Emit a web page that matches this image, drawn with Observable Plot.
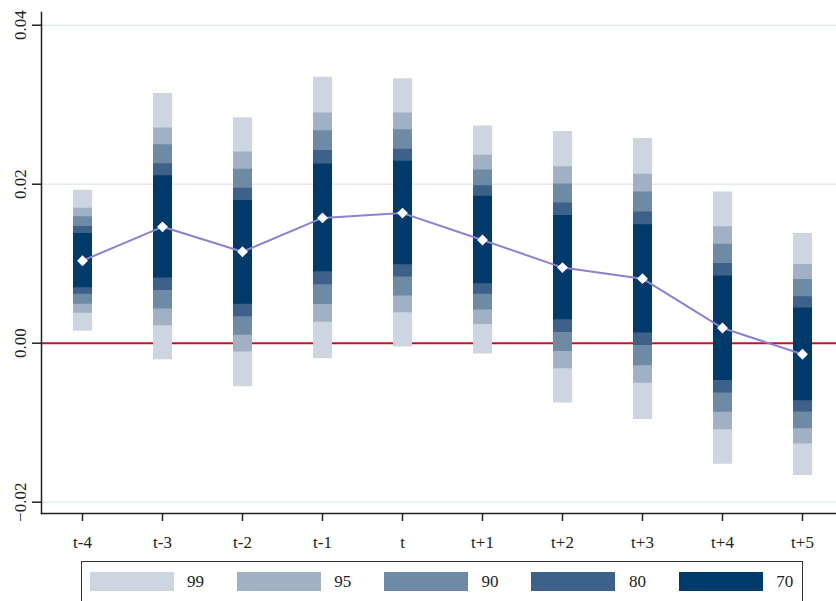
<!DOCTYPE html>
<html>
<head>
<meta charset="utf-8">
<script src="https://cdn.jsdelivr.net/npm/d3@7"></script>
<script src="https://cdn.jsdelivr.net/npm/@observablehq/plot@0.6"></script>
<style>
  html, body { margin: 0; padding: 0; background: #fff; }
  body { width: 836px; height: 601px; overflow: hidden; position: relative;
         font-family: "Liberation Serif", "DejaVu Serif", serif; }
  #chart { position: absolute; left: 0; top: 0; }
  #chart svg, #chart svg text { font-family: "Liberation Serif", "DejaVu Serif", serif !important; }
  #legend { position: absolute; left: 81px; top: 561px; width: 722px; height: 60px;
            border: 1.5px solid #333; box-sizing: border-box; background: #fff; }
  .sw { position: absolute; top: 9.5px; width: 84px; height: 19px; }
  .lb { position: absolute; top: 9.5px; height: 19px; line-height: 19px; font-size: 17px; color: #222;
        font-family: "Liberation Serif", "DejaVu Serif", serif; }
</style>
</head>
<body>
<div id="chart"></div>
<div id="legend"></div>
<script>
// ---- data ----
const categories = ["t-4","t-3","t-2","t-1","t","t+1","t+2","t+3","t+4","t+5"];
const estimate   = [0.01038, 0.01464, 0.01151, 0.01576, 0.01637, 0.01299, 0.00951, 0.00812, 0.00191, -0.00139];

const lo99 = [0.00152, -0.00208, -0.00547, -0.00195, -0.00048, -0.00135, -0.00751, -0.00960, -0.01524, -0.01663];
const hi99 = [0.01924,  0.03140,  0.02836,  0.03344,  0.03327,  0.02732,  0.02662,  0.02575,  0.01902,  0.01381];
const lo95 = [0.00378,  0.00221, -0.00109,  0.00265,  0.00382,  0.00235, -0.00321, -0.00504, -0.01090, -0.01268];
const hi95 = [0.01698,  0.02706,  0.02406,  0.02897,  0.02897,  0.02363,  0.02219,  0.02124,  0.01464,  0.00990];
const lo90 = [0.00491,  0.00430,  0.00100,  0.00486,  0.00595,  0.00417, -0.00104, -0.00282, -0.00869, -0.01077];
const hi90 = [0.01590,  0.02497,  0.02189,  0.02671,  0.02684,  0.02180,  0.02002,  0.01902,  0.01246,  0.00803];
const lo80 = [0.00617,  0.00664,  0.00334,  0.00734,  0.00834,  0.00617,  0.00135, -0.00030, -0.00625, -0.00864];
const hi80 = [0.01468,  0.02258,  0.01950,  0.02423,  0.02441,  0.01980,  0.01763,  0.01650,  0.01003,  0.00586];
const lo70 = [0.00699,  0.00821,  0.00491,  0.00899,  0.00986,  0.00747,  0.00295,  0.00130, -0.00469, -0.00725];
const hi70 = [0.01381,  0.02106,  0.01794,  0.02254,  0.02289,  0.01850,  0.01607,  0.01490,  0.00847,  0.00443];

const levelNames  = ["99", "95", "90", "80", "70"];
const levelColors = ["#cdd6e0", "#a1b1c3", "#6f8aa4", "#3d6189", "#003a6b"];
const yTicks = [-0.02, 0.00, 0.02, 0.04];

// ---- build tables ----
const los = [lo99, lo95, lo90, lo80, lo70];
const his = [hi99, hi95, hi90, hi80, hi70];
const points = categories.map((c, i) => ({cat: c, est: estimate[i]}));
const bandMarks = levelNames.map((name, k) => {
  const rows = categories.map((c, i) => ({cat: c, lo: los[k][i], hi: his[k][i]}));
  return Plot.ruleX(rows, {x: "cat", y1: "lo", y2: "hi", stroke: levelColors[k], strokeWidth: 19});
});

const FONT = "Liberation Serif, DejaVu Serif, serif";
const chart = Plot.plot({
  width: 836,
  height: 556,
  marginLeft: 41,
  marginRight: 0,
  marginTop: 12,
  marginBottom: 43,
  x: {type: "point", domain: categories, range: [81, 803], padding: 0, axis: null},
  y: {domain: [-0.02142, 0.0416], axis: null},
  style: {fontFamily: FONT, fontSize: "17px", color: "#222", background: "transparent"},
  marks: [
    Plot.gridY(yTicks.filter(d => d !== 0), {stroke: "#e1ecf1", strokeOpacity: 1, strokeWidth: 1.5}),
    Plot.ruleY([0], {stroke: "#c8102e", strokeWidth: 2}),
    ...bandMarks,
    Plot.line(points, {x: "cat", y: "est", stroke: "#8c80d4", strokeWidth: 2}),
    Plot.dot(points, {x: "cat", y: "est", symbol: "diamond2", r: 4.9, fill: "white", stroke: "none"}),
    Plot.frame({anchor: "left", stroke: "#222", strokeWidth: 1.5}),
    Plot.frame({anchor: "bottom", stroke: "#222", strokeWidth: 1.5}),
    Plot.axisX({tickSize: 8, tickPadding: 14, fontSize: 17, strokeWidth: 1.5, label: null, fontFamily: FONT}),
    Plot.axisY(yTicks, {tickSize: 9, tickFormat: () => "", strokeWidth: 1.5, label: null}),
    Plot.text(yTicks, {y: d => d, text: d => d3.format(".2f")(d), frameAnchor: "left", dx: -16,
                       rotate: -90, textAnchor: "middle", lineAnchor: "bottom", fontSize: 17,
                       fontFamily: FONT, fill: "#222"})
  ]
});
document.getElementById("chart").appendChild(chart);

// ---- legend ----
const legend = document.getElementById("legend");
levelNames.forEach((name, k) => {
  const sw = document.createElement("div");
  sw.className = "sw";
  sw.style.left = (7.5 + k * 147.3) + "px";
  sw.style.background = levelColors[k];
  legend.appendChild(sw);
  const lb = document.createElement("div");
  lb.className = "lb";
  lb.style.left = (105 + k * 147.3) + "px";
  lb.textContent = name;
  legend.appendChild(lb);
});
</script>
</body>
</html>
